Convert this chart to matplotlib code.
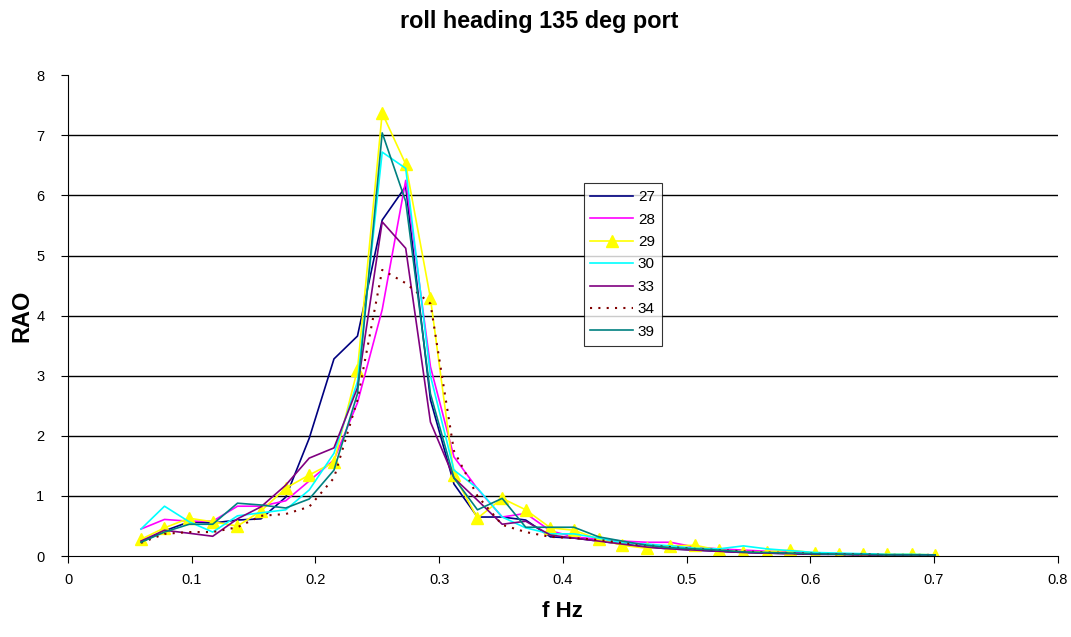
import matplotlib.pyplot as plt
from matplotlib import font_manager

# frequencies (Hz)
f = [0.059, 0.078, 0.098, 0.117, 0.137, 0.156, 0.176, 0.195, 0.215, 0.234,
     0.254, 0.273, 0.293, 0.312, 0.331, 0.351, 0.370, 0.390, 0.409, 0.429,
     0.448, 0.468, 0.487, 0.507, 0.526, 0.546, 0.565, 0.584, 0.604, 0.623,
     0.643, 0.662, 0.682, 0.701]

# RAO per run
s27 = [0.23, 0.42, 0.57, 0.55, 0.60, 0.62, 0.98, 1.96, 3.28, 3.66, 5.59, 6.15, 2.6, 1.2, 0.65, 0.65, 0.6,
       0.32, 0.3, 0.25, 0.2, 0.15, 0.12, 0.1, 0.08, 0.06, 0.05, 0.04, 0.03, 0.03, 0.02, 0.02, 0.02, 0.02]
s28 = [0.45, 0.61, 0.58, 0.58, 0.83, 0.83, 0.92, 1.25, 1.6, 2.55, 4.1, 6.25, 3.15, 1.65, 1.12, 0.65, 0.71,
       0.42, 0.32, 0.28, 0.25, 0.23, 0.23, 0.15, 0.12, 0.1, 0.08, 0.07, 0.05, 0.04, 0.03, 0.03, 0.02, 0.02]
s29 = [0.28, 0.47, 0.63, 0.57, 0.50, 0.75, 1.13, 1.35, 1.56, 3.1, 7.37, 6.52, 4.29, 1.35, 0.63, 0.96, 0.77,
       0.47, 0.43, 0.28, 0.18, 0.13, 0.17, 0.18, 0.10, 0.07, 0.07, 0.10, 0.05, 0.03, 0.03, 0.03, 0.03, 0.02]
s30 = [0.45, 0.83, 0.57, 0.40, 0.67, 0.72, 0.77, 1.1, 1.71, 2.9, 6.72, 6.45, 3.0, 1.43, 1.13, 0.65, 0.47,
       0.37, 0.37, 0.3, 0.22, 0.2, 0.17, 0.13, 0.12, 0.17, 0.12, 0.09, 0.06, 0.05, 0.04, 0.03, 0.03, 0.02]
s33 = [0.25, 0.43, 0.38, 0.33, 0.62, 0.82, 1.18, 1.63, 1.8, 2.8, 5.56, 5.12, 2.23, 1.3, 0.93, 0.53, 0.58,
       0.35, 0.3, 0.25, 0.2, 0.15, 0.12, 0.1, 0.08, 0.06, 0.05, 0.04, 0.03, 0.03, 0.02, 0.02, 0.02, 0.02]
s34 = [0.22, 0.37, 0.40, 0.40, 0.48, 0.67, 0.70, 0.82, 1.3, 2.6, 4.76, 4.54, 4.2, 1.75, 1.0, 0.52, 0.4,
       0.32, 0.3, 0.27, 0.22, 0.18, 0.15, 0.12, 0.1, 0.08, 0.06, 0.05, 0.04, 0.03, 0.03, 0.02, 0.02, 0.02]
s39 = [0.23, 0.40, 0.53, 0.53, 0.88, 0.85, 0.80, 0.95, 1.43, 2.7, 7.04, 5.9, 2.7, 1.3, 0.77, 0.96, 0.48,
       0.48, 0.48, 0.32, 0.25, 0.18, 0.14, 0.12, 0.1, 0.07, 0.06, 0.05, 0.04, 0.03, 0.03, 0.02, 0.02, 0.02]

labels = ['27', '28', '29', '30', '33', '34', '39']

plt.rcParams['font.family'] = ['Liberation Sans', 'DejaVu Sans']

# pick the plain (not Narrow) bold face for the headings
bold_file = None
for fe in font_manager.fontManager.ttflist:
    if fe.name == 'Liberation Sans' and fe.weight in (700, 'bold') and fe.style == 'normal' \
            and 'Narrow' not in fe.fname:
        bold_file = fe.fname
        break
if bold_file:
    def bold(size):
        return font_manager.FontProperties(fname=bold_file, size=size)
else:
    def bold(size):
        return font_manager.FontProperties(family='DejaVu Sans', weight='bold', size=size)

fig = plt.figure(figsize=(10.71, 6.37), dpi=100)
ax = fig.add_axes([0.0635, 0.127, 0.924, 0.755])

ax.plot(f, s27, color='#000080', lw=1.2, label=labels[0])
ax.plot(f, s28, color='#FF00FF', lw=1.2, label=labels[1])
ax.plot(f, s29, color='#FFFF00', lw=1.2, marker='^', ms=8, label=labels[2])
ax.plot(f, s30, color='#00FFFF', lw=1.2, label=labels[3])
ax.plot(f, s33, color='#800080', lw=1.2, label=labels[4])
ax.plot(f, s34, color='#800000', lw=1.5, ls=(0, (1, 3)), label=labels[5])
ax.plot(f, s39, color='#008080', lw=1.2, label=labels[6])

ax.set_xlim(0, 0.8)
ax.set_ylim(0, 8)
ax.set_xticks([i / 10 for i in range(9)])
ax.set_xticklabels(['0', '0.1', '0.2', '0.3', '0.4', '0.5', '0.6', '0.7', '0.8'])
ax.set_yticks(range(9))
ax.tick_params(labelsize=10.5, direction='out', length=5, color='black')
ax.tick_params(axis='x', pad=7)
ax.tick_params(axis='y', pad=12)

for y in range(1, 8):
    ax.axhline(y, color='black', lw=1, zorder=0)

for side in ['top', 'right']:
    ax.spines[side].set_visible(False)
ax.spines['left'].set_color('black')
ax.spines['bottom'].set_color('black')

fig.text(0.503, 0.966, 'roll heading 135 deg port', fontproperties=bold(16.8),
         ha='center', va='center')
ax.set_xlabel('f Hz', fontproperties=bold(16), labelpad=10)
ax.set_ylabel('RAO', fontproperties=bold(17), labelpad=2)

leg = ax.legend(loc='upper left', bbox_to_anchor=(0.521, 0.775), borderaxespad=0,
                fontsize=11, frameon=True, fancybox=False, edgecolor='black',
                handlelength=2.8, handletextpad=0.3, labelspacing=0.55, borderpad=0.45)
leg.get_frame().set_linewidth(0.8)

fig.savefig('out.png', dpi=100)
